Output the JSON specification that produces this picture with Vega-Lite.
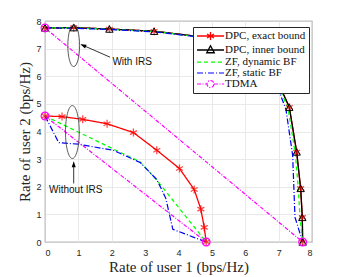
{
  "$schema": "https://vega.github.io/schema/vega-lite/v6.json",
  "width": 267,
  "height": 221,
  "autosize": "none",
  "padding": {"left": 45, "top": 21, "right": 34, "bottom": 35},
  "background": "white",
  "config": {
    "view": {"stroke": "#333333", "strokeWidth": 0.8},
    "axis": {
      "grid": true, "gridColor": "#e3e3e3", "gridWidth": 0.8,
      "domain": false, "ticks": false,
      "labelFont": "Liberation Sans", "labelFontSize": 9, "labelColor": "#262626",
      "titleFont": "Liberation Serif", "titleFontSize": 15, "titleFontWeight": "normal", "titleColor": "#262626"
    }
  },
  "data": {"values": [
    {"s":"DPC, exact bound","g":"w","x":0,"y":7.75},
    {"s":"DPC, exact bound","g":"w","x":0.86,"y":7.76},
    {"s":"DPC, exact bound","g":"w","x":1.93,"y":7.71},
    {"s":"DPC, exact bound","g":"w","x":3.27,"y":7.63},
    {"s":"DPC, exact bound","g":"w","x":4.6,"y":7.44},
    {"s":"DPC, exact bound","g":"w","x":5.8,"y":7.08},
    {"s":"DPC, exact bound","g":"w","x":6.6,"y":6.5},
    {"s":"DPC, exact bound","g":"w","x":7.05,"y":5.6},
    {"s":"DPC, exact bound","g":"w","x":7.32,"y":4.88},
    {"s":"DPC, exact bound","g":"w","x":7.54,"y":3.26},
    {"s":"DPC, exact bound","g":"w","x":7.66,"y":1.94},
    {"s":"DPC, exact bound","g":"w","x":7.71,"y":0.89},
    {"s":"DPC, exact bound","g":"w","x":7.72,"y":0},
    {"s":"DPC, inner bound","g":"w","x":0,"y":7.75},
    {"s":"DPC, inner bound","g":"w","x":0.86,"y":7.76},
    {"s":"DPC, inner bound","g":"w","x":1.93,"y":7.71},
    {"s":"DPC, inner bound","g":"w","x":3.27,"y":7.63},
    {"s":"DPC, inner bound","g":"w","x":4.6,"y":7.44},
    {"s":"DPC, inner bound","g":"w","x":5.8,"y":7.08},
    {"s":"DPC, inner bound","g":"w","x":6.6,"y":6.5},
    {"s":"DPC, inner bound","g":"w","x":7.05,"y":5.6},
    {"s":"DPC, inner bound","g":"w","x":7.32,"y":4.88},
    {"s":"DPC, inner bound","g":"w","x":7.54,"y":3.26},
    {"s":"DPC, inner bound","g":"w","x":7.66,"y":1.94},
    {"s":"DPC, inner bound","g":"w","x":7.71,"y":0.89},
    {"s":"DPC, inner bound","g":"w","x":7.72,"y":0},
    {"s":"ZF, dynamic BF","g":"w","x":0,"y":7.75},
    {"s":"ZF, dynamic BF","g":"w","x":0.86,"y":7.75},
    {"s":"ZF, dynamic BF","g":"w","x":1.93,"y":7.7},
    {"s":"ZF, dynamic BF","g":"w","x":3.27,"y":7.62},
    {"s":"ZF, dynamic BF","g":"w","x":4.6,"y":7.43},
    {"s":"ZF, dynamic BF","g":"w","x":5.8,"y":7.07},
    {"s":"ZF, dynamic BF","g":"w","x":6.6,"y":6.48},
    {"s":"ZF, dynamic BF","g":"w","x":7.03,"y":5.55},
    {"s":"ZF, dynamic BF","g":"w","x":7.28,"y":4.85},
    {"s":"ZF, dynamic BF","g":"w","x":7.5,"y":3.2},
    {"s":"ZF, dynamic BF","g":"w","x":7.59,"y":1.94},
    {"s":"ZF, dynamic BF","g":"w","x":7.64,"y":0.9},
    {"s":"ZF, dynamic BF","g":"w","x":7.72,"y":0},
    {"s":"ZF, static BF","g":"w","x":0,"y":7.75},
    {"s":"ZF, static BF","g":"w","x":0.86,"y":7.74},
    {"s":"ZF, static BF","g":"w","x":1.93,"y":7.69},
    {"s":"ZF, static BF","g":"w","x":3.27,"y":7.61},
    {"s":"ZF, static BF","g":"w","x":4.6,"y":7.42},
    {"s":"ZF, static BF","g":"w","x":5.8,"y":7.05},
    {"s":"ZF, static BF","g":"w","x":6.6,"y":6.45},
    {"s":"ZF, static BF","g":"w","x":7.0,"y":5.5},
    {"s":"ZF, static BF","g":"w","x":7.22,"y":4.8},
    {"s":"ZF, static BF","g":"w","x":7.42,"y":3.14},
    {"s":"ZF, static BF","g":"w","x":7.49,"y":0.9},
    {"s":"ZF, static BF","g":"w","x":7.72,"y":0},
    {"s":"TDMA","g":"w","x":0,"y":7.75},
    {"s":"TDMA","g":"w","x":7.72,"y":0},
    {"s":"DPC, exact bound","g":"o","x":0,"y":4.56},
    {"s":"DPC, exact bound","g":"o","x":0.51,"y":4.54},
    {"s":"DPC, exact bound","g":"o","x":1.13,"y":4.44},
    {"s":"DPC, exact bound","g":"o","x":1.86,"y":4.28},
    {"s":"DPC, exact bound","g":"o","x":2.65,"y":3.96},
    {"s":"DPC, exact bound","g":"o","x":3.35,"y":3.32},
    {"s":"DPC, exact bound","g":"o","x":4.03,"y":2.66},
    {"s":"DPC, exact bound","g":"o","x":4.47,"y":1.9},
    {"s":"DPC, exact bound","g":"o","x":4.67,"y":1.19},
    {"s":"DPC, exact bound","g":"o","x":4.77,"y":0.53},
    {"s":"DPC, exact bound","g":"o","x":4.83,"y":0},
    {"s":"ZF, dynamic BF","g":"o","x":0,"y":4.56},
    {"s":"ZF, dynamic BF","g":"o","x":2.85,"y":2.9},
    {"s":"ZF, dynamic BF","g":"o","x":3.35,"y":2.24},
    {"s":"ZF, dynamic BF","g":"o","x":4.83,"y":0},
    {"s":"ZF, static BF","g":"o","x":0,"y":4.56},
    {"s":"ZF, static BF","g":"o","x":0.41,"y":3.6},
    {"s":"ZF, static BF","g":"o","x":1.0,"y":3.54},
    {"s":"ZF, static BF","g":"o","x":2.05,"y":3.32},
    {"s":"ZF, static BF","g":"o","x":2.85,"y":2.88},
    {"s":"ZF, static BF","g":"o","x":3.35,"y":2.26},
    {"s":"ZF, static BF","g":"o","x":3.62,"y":1.58},
    {"s":"ZF, static BF","g":"o","x":3.83,"y":0.46},
    {"s":"ZF, static BF","g":"o","x":4.83,"y":0},
    {"s":"TDMA","g":"o","x":0,"y":4.56},
    {"s":"TDMA","g":"o","x":4.83,"y":0}
  ]},
  "encoding": {
    "x": {"field": "x", "type": "quantitative", "scale": {"domain": [0, 8], "nice": false},
          "axis": {"title": "Rate of user 1 (bps/Hz)", "values": [0,1,2,3,4,5,6,7,8], "labelPadding": 6, "titlePadding": 2}},
    "y": {"field": "y", "type": "quantitative", "scale": {"domain": [0, 8], "nice": false},
          "axis": {"title": "Rate of user 2 (bps/Hz)", "values": [0,1,2,3,4,5,6,7,8], "labelPadding": 4, "titlePadding": 3}}
  },
  "layer": [
    {
      "mark": {"type": "line", "strokeCap": "butt"},
      "encoding": {
        "detail": {"field": "g"},
        "color": {"field": "s", "type": "nominal",
          "scale": {"domain": ["DPC, exact bound","DPC, inner bound","ZF, dynamic BF","ZF, static BF","TDMA"],
                    "range": ["#ff0000","#000000","#00ff00","#0000ff","#ff00ff"]},
          "legend": {"title": null, "orient": "none", "legendX": 148, "legendY": 6,
            "fillColor": "white", "strokeColor": "#262626", "padding": 3,
            "labelFont": "Liberation Serif", "labelFontSize": 11, "labelColor": "#111111",
            "symbolSize": 100, "symbolStrokeWidth": 1.2, "labelOffset": 17, "rowPadding": 0,
            "encode": {"symbols": {"update": {"shape": {"signal": "datum.value == 'DPC, exact bound' ? 'M-1,0L4.4,0M1.7,-0.8L1.7,0.8M1.0,-0.4L2.4,0.4M1.0,0.4L2.4,-0.4' : datum.value == 'DPC, inner bound' ? 'M-1,0L4.4,0M1.7,-0.85L2.45,0.55L0.95,0.55Z' : datum.value == 'TDMA' ? 'M-1,0L1.0,0M2.4,0L4.4,0M2.4,0A0.7,0.7 0 1,1 1.0,0A0.7,0.7 0 1,1 2.4,0' : 'M-1,0L4.4,0'"}}}}}},
        "strokeDash": {"field": "s", "type": "nominal",
          "scale": {"domain": ["DPC, exact bound","DPC, inner bound","ZF, dynamic BF","ZF, static BF","TDMA"],
                    "range": [[1,0],[1,0],[4,3],[6,2,1,2],[4,1.5,1,1.5]]}},
        "strokeWidth": {"field": "s", "type": "nominal", "legend": null,
          "scale": {"domain": ["DPC, exact bound","DPC, inner bound","ZF, dynamic BF","ZF, static BF","TDMA"],
                    "range": [1.3, 1.2, 1.2, 1.0, 0.9]}}
      }
    },
    {
      "transform": [{"filter": "datum.s == 'DPC, exact bound'"}],
      "mark": {"type": "point", "shape": "M0,-1L0,1M-0.87,-0.5L0.87,0.5M-0.87,0.5L0.87,-0.5", "size": 64, "color": "#ff0000", "filled": false, "strokeWidth": 1.3}
    },
    {
      "transform": [{"filter": "datum.s == 'DPC, inner bound'"}],
      "mark": {"type": "point", "shape": "triangle-up", "size": 55, "color": "#000000", "filled": false, "strokeWidth": 1, "opacity": 1}
    },
    {
      "transform": [{"filter": "datum.s == 'TDMA'"}],
      "mark": {"type": "point", "shape": "circle", "size": 60, "color": "#ff00ff", "filled": false, "strokeWidth": 1.2, "opacity": 1}
    },
    {
      "data": {"values": [{"x": 0.86, "y": 7.11}]},
      "mark": {"type": "point", "shape": "M0,-1A0.28,1 0 1,1 0,1A0.28,1 0 1,1 0,-1Z", "size": 1764, "color": "#333333", "filled": false, "strokeWidth": 0.8, "opacity": 1}
    },
    {
      "data": {"values": [{"x": 0.82, "y": 3.98}]},
      "mark": {"type": "point", "shape": "M0,-1A0.26,1 0 1,1 0,1A0.26,1 0 1,1 0,-1Z", "size": 2809, "color": "#333333", "filled": false, "strokeWidth": 0.8, "opacity": 1}
    },
    {
      "data": {"values": [{"x": 1.95, "y": 6.69, "x2": 1.1, "y2": 7.14}, {"x": 0.86, "y": 2.12, "x2": 0.86, "y2": 2.85}]},
      "mark": {"type": "rule", "color": "#000000", "strokeWidth": 0.8},
      "encoding": {"x2": {"field": "x2"}, "y2": {"field": "y2"}}
    },
    {
      "data": {"values": [{"x": 1.06, "y": 7.16}]},
      "mark": {"type": "point", "shape": "M0,0L-1,3L1,3Z", "size": 16, "angle": 294, "color": "#000000", "filled": true, "opacity": 1}
    },
    {
      "data": {"values": [{"x": 0.86, "y": 2.92}]},
      "mark": {"type": "point", "shape": "M0,0L-1,3L1,3Z", "size": 16, "angle": 0, "color": "#000000", "filled": true, "opacity": 1}
    },
    {
      "data": {"values": [{"x": 2.02, "y": 6.5, "t": "With IRS"}, {"x": 0.12, "y": 1.88, "t": "Without IRS"}]},
      "mark": {"type": "text", "align": "left", "baseline": "middle", "font": "Liberation Sans", "fontSize": 10, "color": "#111111"},
      "encoding": {"text": {"field": "t"}}
    }
  ]
}
